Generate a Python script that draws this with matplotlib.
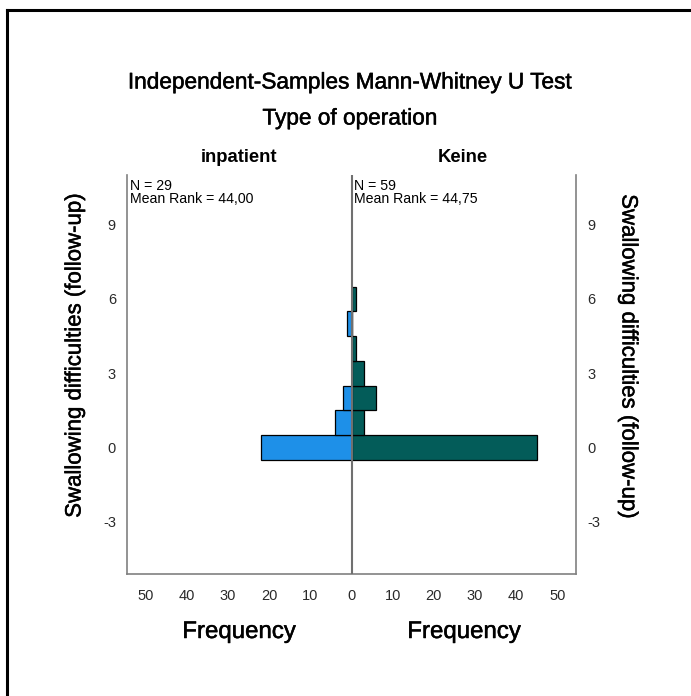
import matplotlib
matplotlib.use("Agg")
import matplotlib.pyplot as plt
import matplotlib.patheffects as pe
from matplotlib.lines import Line2D

plt.rcParams["font.family"] = ["Liberation Sans", "DejaVu Sans"]

# Histogram of follow-up swallowing difficulty scores per group
scores = [0, 1, 2, 3, 4, 5, 6]
inpatient_counts = [22, 4, 2, 0, 0, 1, 0]
keine_counts = [45, 3, 6, 3, 1, 0, 1]

groups = ["inpatient", "Keine"]
group_n = [29, 59]
mean_ranks = ["44,00", "44,75"]

freq_ticks = [-50, -40, -30, -20, -10, 0, 10, 20, 30, 40, 50]
score_ticks = [-3, 0, 3, 6, 9]

blue = "#1E90E8"
teal = "#035C59"
gray = "#808080"

# slightly heavier strokes for the labels
heavy = [pe.withStroke(linewidth=0.35, foreground="black")]

fig = plt.figure(figsize=(6.91, 6.96), dpi=100)
ax = fig.add_axes([0.1838, 0.1753, 0.6498, 0.5733])

ax.barh(scores, [-c for c in inpatient_counts], height=1.0, left=0,
        color=blue, edgecolor="black", linewidth=0.9, zorder=2)
ax.barh(scores, keine_counts, height=1.0, left=0,
        color=teal, edgecolor="black", linewidth=0.9, zorder=2)

ax.axvline(0, color="#707070", linewidth=1.5, zorder=3)

ax.set_xlim(-54.5, 54.5)
ax.set_ylim(-5.1, 11.0)
ax.set_xticks(freq_ticks)
ax.set_xticklabels([str(abs(t)) for t in freq_ticks])
ax.set_yticks(score_ticks)
ax.set_yticklabels([str(t) for t in score_ticks])

ax.tick_params(axis="both", length=0, labelsize=10.5, labelcolor="#2a2a2a")
ax.tick_params(axis="x", pad=11)
ax.tick_params(axis="y", pad=8, labelleft=True, labelright=True)

ax.spines["top"].set_visible(False)
for side in ("left", "right", "bottom"):
    ax.spines[side].set_color(gray)
    ax.spines[side].set_linewidth(1.2)

# Group statistics in each half
ax.text(0.006, 0.99, f"N = {group_n[0]}\nMean Rank = {mean_ranks[0]}",
        transform=ax.transAxes, ha="left", va="top", fontsize=10.2,
        linespacing=0.92)
ax.text(0.506, 0.99, f"N = {group_n[1]}\nMean Rank = {mean_ranks[1]}",
        transform=ax.transAxes, ha="left", va="top", fontsize=10.2,
        linespacing=0.92)

# Titles and labels
W, H = 691, 696
fig.text(350 / W, 1 - 82 / H, "Independent-Samples Mann-Whitney U Test",
         ha="center", va="center", fontsize=16.3, path_effects=heavy)
fig.text(350 / W, 1 - 118 / H, "Type of operation",
         ha="center", va="center", fontsize=16.3, path_effects=heavy)
fig.text(239 / W, 1 - 158 / H, groups[0], ha="center", va="center",
         fontsize=13.3, fontweight="bold")
fig.text(463 / W, 1 - 158 / H, groups[1], ha="center", va="center",
         fontsize=13.3, fontweight="bold")
fig.text(239 / W, 1 - 632 / H, "Frequency", ha="center", va="center",
         fontsize=17.3, path_effects=heavy)
fig.text(464 / W, 1 - 632 / H, "Frequency", ha="center", va="center",
         fontsize=17.3, path_effects=heavy)
fig.text(75 / W, 1 - 355 / H, "Swallowing difficulties (follow-up)",
         ha="center", va="center", rotation=90, fontsize=16,
         path_effects=heavy)
fig.text(628 / W, 1 - 357 / H, "Swallowing difficulties (follow-up)",
         ha="center", va="center", rotation=270, fontsize=16,
         path_effects=heavy)

# Outer frame (top and left edges)
fig.add_artist(Line2D([7 / W, 1.0], [1 - 10 / H, 1 - 10 / H],
                      transform=fig.transFigure, color="black", linewidth=2.2))
fig.add_artist(Line2D([7 / W, 7 / W], [0.0, 1 - 10 / H],
                      transform=fig.transFigure, color="black", linewidth=2.2))

fig.savefig("out.png", dpi=100)
